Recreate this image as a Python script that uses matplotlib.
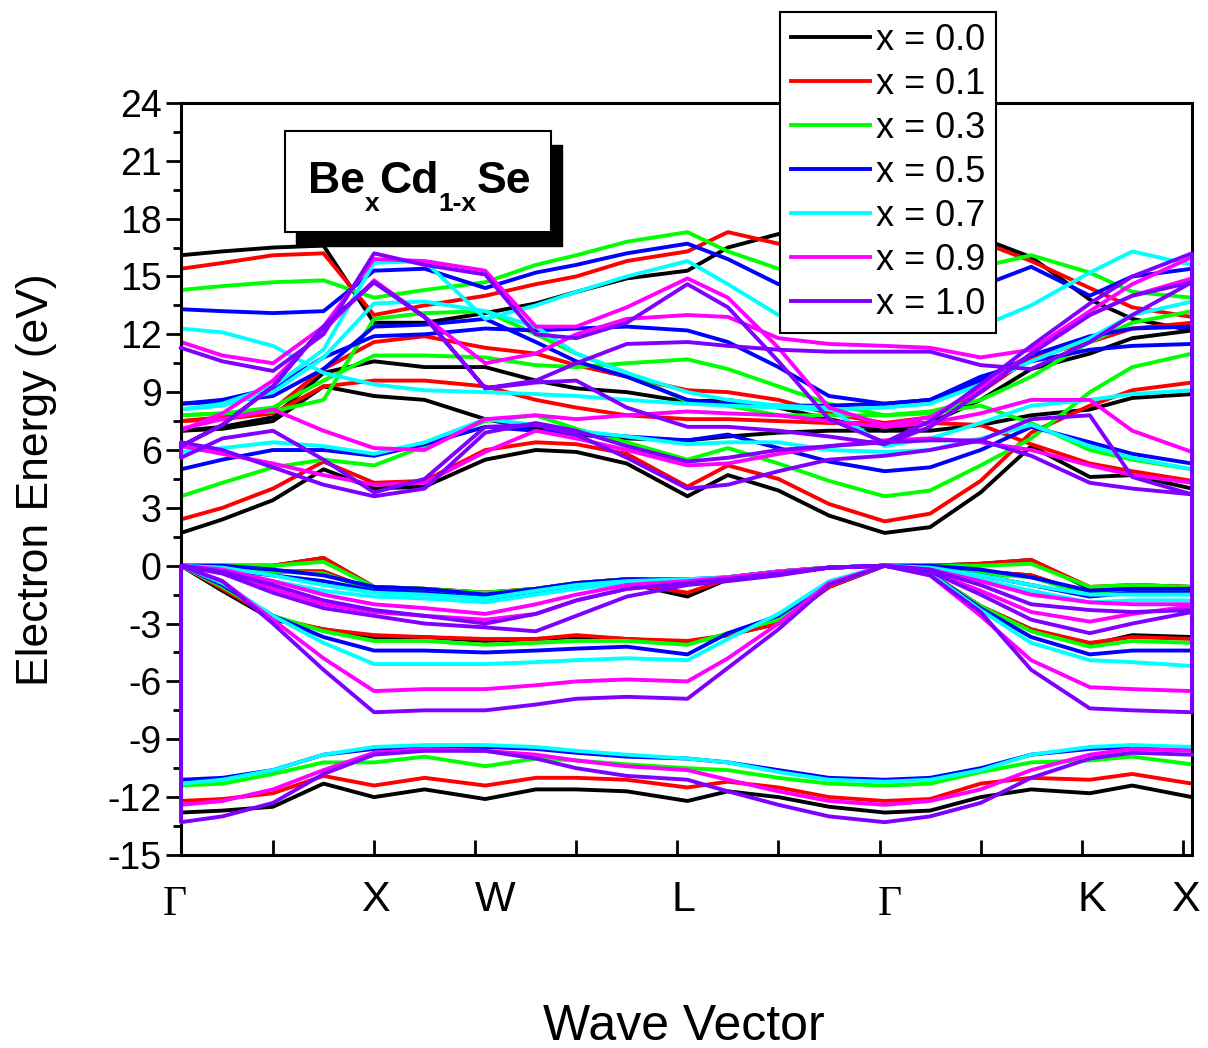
import matplotlib
matplotlib.use('Agg')
import matplotlib.pyplot as plt
from matplotlib.patches import Rectangle
from matplotlib.ticker import MultipleLocator, FixedLocator

plt.rcParams['font.family'] = ['Liberation Sans', 'DejaVu Sans']
plt.rcParams['axes.unicode_minus'] = False

W_PX, H_PX = 1208, 1048

# k-path sampling (axis units, ticks at 1..10)
k_path = [0.09, 0.5, 1.0, 1.5, 2.0, 2.5, 3.1, 3.6, 4.0, 4.5, 5.1,
          5.5, 6.0, 6.5, 7.05, 7.5, 8.0, 8.5, 9.08, 9.5, 10.09]
sym_pos = [0.03, 2.01, 3.2, 5.06, 7.1, 9.1, 10.02]
sym_labels = ['Γ', 'X', 'W', 'L', 'Γ', 'K', 'X']

comp_labels = ['x = 0.0', 'x = 0.1', 'x = 0.3', 'x = 0.5', 'x = 0.7', 'x = 0.9', 'x = 1.0']
comp_colors = ['#000000', '#ff0000', '#00ff00', '#0000ff', '#00ffff', '#ff00ff', '#8000ff']

# x = 0.0 : valence (vb1..vb4) and conduction bands
x00_vb = [
    [-12.8, -12.7, -12.5, -11.3, -12.0, -11.6, -12.1, -11.6, -11.6, -11.7, -12.2, -11.7, -12.0, -12.5, -12.8, -12.7, -12.0, -11.6, -11.8, -11.4, -12.0],
    [0.0, -1.3, -2.8, -3.3, -3.7, -3.7, -3.9, -3.8, -3.7, -3.8, -4.0, -3.6, -3.0, -1.1, 0.0, -0.4, -2.1, -3.3, -4.1, -3.6, -3.7],
    [0.0, -0.1, -0.3, -0.3, -1.3, -1.3, -1.6, -1.4, -1.1, -0.9, -1.6, -0.7, -0.4, -0.1, 0.0, -0.1, -0.3, -0.5, -1.5, -1.2, -1.3],
    [0.0, 0.0, 0.0, 0.4, -1.1, -1.2, -1.4, -1.2, -0.9, -0.7, -0.8, -0.6, -0.3, -0.1, 0.0, 0.0, 0.1, 0.3, -1.2, -1.0, -1.1],
]
x00_cb = [
    [1.7, 2.4, 3.4, 5.0, 4.0, 4.1, 5.5, 6.0, 5.9, 5.3, 3.6, 4.7, 3.9, 2.6, 1.7, 2.0, 3.8, 6.2, 4.6, 4.7, 4.0],
    [7.0, 7.1, 7.5, 9.3, 8.8, 8.6, 7.6, 7.1, 6.8, 6.6, 6.5, 6.7, 6.9, 7.0, 7.0, 7.0, 7.3, 7.8, 8.1, 8.7, 8.9],
    [7.0, 7.2, 7.7, 10.0, 10.6, 10.3, 10.3, 9.6, 9.2, 9.0, 8.5, 8.6, 8.2, 7.6, 7.0, 7.4, 8.6, 10.2, 11.0, 11.8, 12.2],
    [16.1, 16.3, 16.5, 16.6, 12.6, 12.6, 13.1, 13.6, 14.2, 14.9, 15.3, 16.5, 17.2, 17.0, 16.8, 16.9, 17.0, 16.0, 13.8, 12.8, 12.2],
]

# x = 0.1
x01_vb = [
    [-12.2, -12.1, -11.8, -10.9, -11.4, -11.0, -11.4, -11.0, -11.0, -11.1, -11.5, -11.2, -11.5, -12.0, -12.2, -12.1, -11.3, -11.0, -11.1, -10.8, -11.3],
    [0.0, -1.2, -2.7, -3.3, -3.6, -3.7, -3.8, -3.8, -3.6, -3.8, -3.9, -3.6, -3.0, -1.1, 0.0, -0.4, -2.1, -3.3, -4.0, -3.7, -3.8],
    [0.0, -0.1, -0.3, -0.3, -1.3, -1.3, -1.6, -1.4, -1.1, -0.9, -1.4, -0.7, -0.4, -0.1, 0.0, -0.1, -0.3, -0.5, -1.5, -1.2, -1.3],
    [0.0, 0.0, 0.0, 0.4, -1.1, -1.2, -1.4, -1.2, -0.9, -0.7, -0.8, -0.6, -0.3, -0.1, 0.0, 0.0, 0.1, 0.3, -1.1, -1.0, -1.1],
]
x01_cb = [
    [2.4, 3.0, 4.0, 5.4, 4.3, 4.4, 6.0, 6.4, 6.3, 5.8, 4.1, 5.2, 4.5, 3.2, 2.3, 2.7, 4.4, 6.9, 8.3, 9.1, 9.5],
    [7.5, 7.6, 7.9, 9.3, 9.6, 9.6, 9.3, 8.6, 8.2, 7.8, 7.6, 7.6, 7.5, 7.4, 7.4, 7.4, 7.3, 6.3, 5.3, 4.9, 4.4],
    [7.5, 7.7, 8.1, 10.2, 11.6, 11.9, 11.3, 11.0, 10.4, 9.8, 9.1, 9.0, 8.6, 7.9, 7.4, 7.7, 9.0, 10.8, 11.6, 12.3, 12.6],
    [15.4, 15.7, 16.1, 16.2, 13.0, 13.5, 14.0, 14.6, 15.0, 15.8, 16.3, 17.3, 16.7, 16.7, 16.7, 16.8, 16.8, 15.8, 14.4, 13.4, 12.9],
]

# x = 0.3
x03_vb = [
    [-11.4, -11.3, -10.8, -10.2, -10.2, -9.9, -10.4, -10.0, -10.1, -10.3, -10.5, -10.6, -11.0, -11.3, -11.4, -11.3, -10.7, -10.2, -10.1, -9.9, -10.3],
    [0.0, -1.1, -2.6, -3.4, -3.9, -3.9, -4.1, -4.0, -3.9, -3.9, -4.1, -3.5, -2.8, -1.0, 0.0, -0.4, -2.1, -3.4, -4.2, -3.9, -4.0],
    [0.0, -0.1, -0.3, -0.4, -1.3, -1.3, -1.6, -1.4, -1.1, -0.9, -0.9, -0.7, -0.4, -0.1, 0.0, -0.1, -0.4, -0.6, -1.5, -1.2, -1.3],
    [0.0, 0.0, 0.0, 0.2, -1.1, -1.2, -1.4, -1.2, -0.9, -0.7, -0.8, -0.6, -0.3, -0.1, 0.0, 0.0, 0.0, 0.1, -1.1, -1.0, -1.1],
]
x03_cb = [
    [3.6, 4.3, 5.1, 5.5, 5.2, 6.2, 7.5, 7.8, 7.1, 6.4, 5.5, 6.1, 5.3, 4.4, 3.6, 3.9, 5.2, 6.6, 9.0, 10.3, 11.0],
    [7.8, 7.9, 8.2, 9.6, 10.9, 10.9, 10.8, 10.4, 10.3, 10.5, 10.7, 10.2, 9.3, 8.4, 7.8, 7.9, 8.3, 7.4, 6.0, 5.5, 5.0],
    [7.8, 7.9, 8.0, 8.6, 12.8, 13.1, 13.2, 12.0, 11.0, 10.0, 8.5, 8.3, 7.8, 7.8, 7.8, 8.0, 8.6, 9.8, 11.6, 12.6, 13.2],
    [14.3, 14.5, 14.7, 14.8, 13.9, 14.3, 14.7, 15.6, 16.1, 16.8, 17.3, 16.3, 15.4, 15.4, 15.4, 15.4, 15.5, 16.1, 15.2, 14.2, 13.9],
]

# x = 0.5
x05_vb = [
    [-11.1, -11.0, -10.6, -9.8, -9.5, -9.4, -9.4, -9.5, -9.7, -9.9, -10.0, -10.2, -10.6, -11.0, -11.1, -11.0, -10.5, -9.8, -9.5, -9.4, -9.5],
    [0.0, -1.0, -2.6, -3.7, -4.4, -4.4, -4.5, -4.4, -4.3, -4.2, -4.6, -3.5, -2.6, -0.9, 0.0, -0.4, -2.2, -3.7, -4.6, -4.4, -4.4],
    [0.0, -0.2, -0.5, -0.8, -1.3, -1.4, -1.7, -1.4, -1.1, -0.9, -0.8, -0.7, -0.4, -0.1, 0.0, -0.1, -0.5, -1.0, -1.6, -1.4, -1.4],
    [0.0, 0.0, -0.2, -0.5, -1.1, -1.2, -1.5, -1.2, -0.9, -0.7, -0.7, -0.6, -0.3, -0.1, 0.0, 0.0, -0.2, -0.6, -1.3, -1.2, -1.2],
]
x05_cb = [
    [5.0, 5.5, 6.0, 6.0, 5.7, 6.3, 7.2, 7.0, 6.9, 6.7, 6.5, 6.8, 6.1, 5.4, 4.9, 5.1, 6.0, 7.2, 6.4, 5.8, 5.3],
    [8.4, 8.6, 9.2, 10.8, 11.9, 12.0, 12.3, 12.2, 12.3, 12.4, 12.2, 11.6, 10.3, 8.8, 8.4, 8.6, 9.8, 10.6, 11.2, 11.4, 11.5],
    [8.4, 8.5, 8.8, 10.2, 12.4, 12.5, 12.8, 11.6, 10.6, 9.8, 8.6, 8.4, 8.3, 8.3, 8.4, 8.6, 9.6, 10.9, 11.9, 12.3, 12.4],
    [13.3, 13.2, 13.1, 13.2, 15.3, 15.4, 14.4, 15.2, 15.6, 16.2, 16.7, 15.9, 14.6, 14.4, 14.4, 14.4, 14.5, 15.5, 14.0, 15.0, 15.4],
]

# x = 0.7
x07_vb = [
    [-11.3, -11.1, -10.6, -9.8, -9.4, -9.3, -9.3, -9.4, -9.6, -9.8, -10.0, -10.2, -10.7, -11.1, -11.2, -11.1, -10.6, -9.8, -9.4, -9.3, -9.4],
    [0.0, -0.9, -2.6, -4.0, -5.1, -5.1, -5.1, -5.0, -4.9, -4.8, -4.9, -3.8, -2.5, -0.8, 0.0, -0.4, -2.3, -4.0, -4.9, -5.0, -5.2],
    [0.0, -0.3, -0.8, -1.3, -1.6, -1.7, -1.9, -1.5, -1.2, -0.9, -0.8, -0.6, -0.4, -0.1, 0.0, -0.2, -0.7, -1.3, -1.9, -1.8, -1.8],
    [0.0, -0.1, -0.5, -1.0, -1.4, -1.5, -1.7, -1.3, -1.0, -0.8, -0.7, -0.6, -0.3, -0.1, 0.0, -0.1, -0.5, -1.0, -1.5, -1.5, -1.5],
]
x07_cb = [
    [5.9, 6.1, 6.4, 6.2, 5.8, 6.4, 7.6, 7.3, 7.0, 6.7, 6.3, 6.4, 6.4, 6.0, 5.9, 6.0, 6.6, 7.3, 6.2, 5.6, 5.0],
    [8.1, 8.4, 9.3, 11.2, 15.7, 15.8, 12.8, 13.5, 14.2, 15.0, 15.8, 14.6, 13.0, 12.4, 12.3, 12.3, 12.4, 13.5, 15.2, 16.3, 15.6],
    [12.3, 12.1, 11.4, 10.0, 9.4, 9.1, 9.0, 8.9, 8.8, 8.6, 8.4, 8.3, 8.2, 8.1, 8.2, 8.4, 9.4, 10.6, 11.8, 13.0, 13.7],
    [8.1, 8.3, 9.0, 10.8, 13.6, 13.7, 13.2, 12.4, 11.0, 10.0, 9.0, 8.6, 8.3, 8.2, 6.2, 6.6, 7.4, 8.3, 8.6, 8.9, 9.1],
]

# x = 0.9
x09_vb = [
    [-12.4, -12.2, -11.6, -10.6, -9.7, -9.5, -9.6, -9.8, -10.1, -10.4, -10.6, -11.1, -11.7, -12.2, -12.4, -12.2, -11.6, -10.6, -9.8, -9.5, -9.6],
    [0.0, -0.8, -2.8, -4.8, -6.5, -6.4, -6.4, -6.2, -6.0, -5.9, -6.0, -4.8, -3.0, -0.9, 0.0, -0.5, -2.6, -4.9, -6.3, -6.4, -6.5],
    [0.0, -0.4, -1.2, -2.0, -2.4, -2.6, -2.8, -2.5, -1.8, -1.2, -0.9, -0.7, -0.4, -0.1, 0.0, -0.3, -1.3, -2.4, -2.9, -2.5, -2.1],
    [0.0, -0.2, -0.8, -1.5, -2.0, -2.2, -2.5, -2.0, -1.5, -1.0, -0.8, -0.6, -0.3, -0.1, 0.0, -0.2, -0.8, -1.5, -1.9, -2.0, -2.0],
]
x09_cb = [
    [7.1, 7.6, 8.1, 7.0, 6.1, 6.0, 7.6, 7.8, 7.6, 7.8, 8.0, 7.9, 7.8, 7.5, 7.2, 7.4, 7.9, 8.6, 8.6, 7.0, 5.9],
    [6.2, 5.8, 5.3, 4.7, 4.2, 4.3, 5.9, 7.0, 6.6, 6.0, 5.2, 5.3, 5.8, 6.2, 6.5, 6.6, 6.4, 6.0, 5.2, 4.7, 4.3],
    [7.0, 7.9, 9.6, 12.2, 14.8, 12.9, 10.5, 11.0, 12.0, 12.8, 13.0, 12.9, 11.8, 11.5, 11.4, 11.3, 10.8, 11.2, 13.2, 14.6, 16.0],
    [11.6, 10.9, 10.5, 12.4, 15.9, 15.8, 15.3, 12.4, 12.4, 13.4, 14.9, 13.9, 11.3, 8.2, 7.3, 7.7, 9.2, 11.0, 13.0, 14.0, 14.9],
]

# x = 1.0
x10_vb = [
    [-13.3, -13.0, -12.3, -10.8, -9.8, -9.6, -9.6, -10.0, -10.5, -10.9, -11.1, -11.7, -12.4, -13.0, -13.3, -13.0, -12.3, -11.0, -10.0, -9.7, -9.8],
    [0.0, -0.8, -3.0, -5.4, -7.6, -7.5, -7.5, -7.2, -6.9, -6.8, -6.9, -5.3, -3.3, -1.0, 0.0, -0.5, -2.4, -5.4, -7.4, -7.5, -7.6],
    [0.0, -0.4, -1.4, -2.2, -2.6, -3.0, -3.2, -3.4, -2.6, -1.6, -1.0, -0.8, -0.5, -0.1, 0.0, -0.3, -1.5, -2.8, -3.5, -3.0, -2.4],
    [0.0, -0.3, -1.0, -1.8, -2.3, -2.6, -3.0, -2.5, -1.8, -1.2, -0.9, -0.7, -0.4, -0.1, 0.0, -0.2, -1.0, -2.0, -2.3, -2.4, -2.3],
]
x10_cb = [
    [5.6, 6.6, 7.0, 5.5, 3.8, 4.5, 7.2, 7.3, 6.8, 5.6, 4.0, 4.2, 4.9, 5.5, 5.7, 6.0, 6.5, 7.6, 7.8, 4.6, 3.7],
    [6.4, 6.0, 5.1, 4.2, 3.6, 4.0, 6.9, 7.4, 7.0, 6.2, 5.4, 5.6, 6.0, 6.2, 6.4, 6.5, 6.5, 5.7, 4.3, 4.0, 3.7],
    [6.2, 7.3, 9.3, 12.4, 14.7, 12.9, 9.2, 9.5, 9.6, 8.2, 7.2, 7.2, 7.0, 6.7, 6.3, 7.2, 9.0, 11.0, 13.0, 14.0, 14.7],
    [6.2, 7.3, 9.3, 12.4, 14.7, 12.9, 9.2, 9.6, 10.5, 11.5, 11.6, 11.4, 11.2, 11.1, 11.1, 11.1, 10.4, 10.2, 11.6, 13.0, 14.7],
    [11.3, 10.6, 10.1, 12.0, 16.2, 15.6, 15.1, 12.0, 11.8, 12.6, 14.6, 13.4, 10.6, 7.6, 6.4, 7.5, 9.4, 11.4, 13.6, 15.0, 16.2],
]

all_vb = [x00_vb, x01_vb, x03_vb, x05_vb, x07_vb, x09_vb, x10_vb]
all_cb = [x00_cb, x01_cb, x03_cb, x05_cb, x07_cb, x09_cb, x10_cb]


def snake(k, bands):
    # one continuous trace, bands walked back and forth (first one right-to-left)
    xs, ys = [], []
    for i, b in enumerate(bands):
        if i % 2 == 0:
            xs += k[::-1]
            ys += b[::-1]
        else:
            xs += k
            ys += b
    return xs, ys


fig = plt.figure(figsize=(W_PX / 100, H_PX / 100), dpi=100)
ax = fig.add_axes([0.1498, 0.1842, 0.8369, 0.7176])

handles = []
n_comp = len(all_vb)
for i, (vb, cb) in enumerate(zip(all_vb, all_cb)):
    if i == n_comp - 1:
        # last composition drawn as a single connected trace (edges show)
        xs, ys = snake(k_path, vb + cb)
        ln, = ax.plot(xs, ys, color=comp_colors[i], lw=2.8, zorder=3,
                      clip_on=False, solid_joinstyle='round')
    else:
        for j, b in enumerate(vb + cb):
            ln, = ax.plot(k_path, b, color=comp_colors[i], lw=2.8, zorder=2,
                          solid_joinstyle='round')
    ln.set_label(comp_labels[i])
    handles.append(ln)

ax.set_xlim(0.09, 10.09)
ax.set_ylim(-15, 24)
ax.yaxis.set_major_locator(MultipleLocator(3))
ax.yaxis.set_minor_locator(MultipleLocator(1.5))
ax.xaxis.set_major_locator(FixedLocator(range(1, 11)))
ax.tick_params(axis='y', which='major', direction='out', length=11, width=2,
               labelsize=27, pad=3, right=False)
ax.tick_params(axis='y', which='minor', direction='out', length=6, width=2, right=False)
ax.tick_params(axis='x', which='major', direction='in', length=11, width=2,
               labelbottom=False, top=False)
for s in ax.spines.values():
    s.set_linewidth(2.2)

# high-symmetry point labels
for pos, lab in zip(sym_pos, sym_labels):
    if lab == 'Γ':
        ax.text(pos, -0.066, lab, transform=ax.get_xaxis_transform(), ha='center',
                va='center', fontsize=30, family=['Liberation Serif', 'DejaVu Serif'])
    else:
        ax.text(pos, -0.060, lab, transform=ax.get_xaxis_transform(), ha='center',
                va='center', fontsize=31)

fig.text(684 / W_PX, 1 - 1027 / H_PX, 'Wave Vector', ha='center', va='center', fontsize=36)
fig.text(37 / W_PX, 1 - 480 / H_PX, 'Electron Energy (eV)', ha='center', va='center',
         rotation=90, fontsize=32)

# compound name box with drop shadow
fig.add_artist(Rectangle((296 / W_PX, 1 - 246 / H_PX), 266 / W_PX, 101 / H_PX,
                         transform=fig.transFigure, facecolor='black', edgecolor='black'))
fig.add_artist(Rectangle((285 / W_PX, 1 - 232 / H_PX), 266 / W_PX, 101 / H_PX,
                         transform=fig.transFigure, facecolor='white', edgecolor='black',
                         linewidth=1.5))

renderer = fig.canvas.get_renderer()
x_cur = 308
name_parts = [('Be', 32, 193), ('x', 19, 211), ('Cd', 32, 193), ('1-x', 19, 211), ('Se', 32, 193)]
for txt, fs, base in name_parts:
    t = fig.text(x_cur / W_PX, 1 - base / H_PX, txt, fontsize=fs, fontweight='bold',
                 ha='left', va='baseline')
    x_cur += t.get_window_extent(renderer).width

leg = fig.legend(handles=handles, loc='upper left', bbox_to_anchor=(780 / W_PX, 1 - 12 / H_PX),
                 bbox_transform=fig.transFigure, frameon=True, fancybox=False, fontsize=26,
                 handlelength=2.2, handletextpad=0.15, labelspacing=0.25, borderpad=0.3,
                 borderaxespad=0)
leg.get_frame().set_edgecolor('black')
leg.get_frame().set_linewidth(1.5)
leg.get_frame().set_alpha(1)

fig.savefig('out.png', dpi=100)
